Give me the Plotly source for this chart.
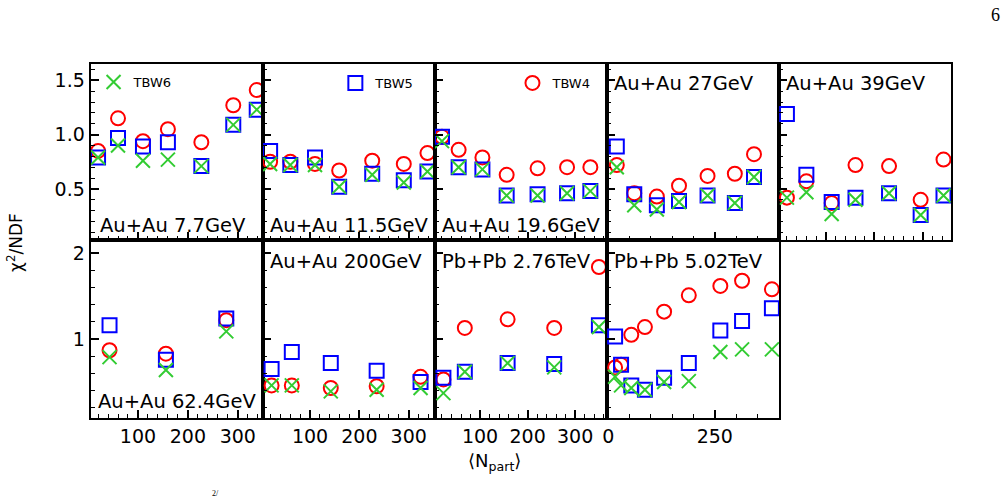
import plotly.graph_objects as go

# ---------------- data ----------------
labels = ["Au+Au 7.7GeV", "Au+Au 11.5GeV", "Au+Au 19.6GeV", "Au+Au 27GeV", "Au+Au 39GeV",
          "Au+Au 62.4GeV", "Au+Au 200GeV", "Pb+Pb 2.76TeV", "Pb+Pb 5.02TeV"]

npart_7 = [20, 60, 110, 160, 227, 291, 338]
tbw4_7 = [0.85, 1.15, 0.94, 1.05, 0.93, 1.27, 1.41]
tbw5_7 = [0.79, 0.97, 0.89, 0.93, 0.71, 1.09, 1.23]
tbw6_7 = [0.79, 0.90, 0.76, 0.77, 0.71, 1.09, 1.23]

npart_11 = [19, 60, 110, 159, 226, 290, 338]
tbw4_11 = [0.75, 0.75, 0.73, 0.67, 0.76, 0.73, 0.83]
tbw5_11 = [0.85, 0.72, 0.79, 0.52, 0.64, 0.58, 0.66]
tbw6_11 = [0.73, 0.72, 0.72, 0.52, 0.63, 0.56, 0.66]

npart_19 = [20, 55, 105, 156, 221, 283, 332]
tbw4_19 = [0.98, 0.86, 0.79, 0.63, 0.69, 0.70, 0.70]
tbw5_19 = [0.98, 0.70, 0.68, 0.44, 0.45, 0.46, 0.48]
tbw6_19 = [0.94, 0.70, 0.68, 0.44, 0.44, 0.46, 0.48]

npart_27 = [20, 61, 114, 166, 233, 297, 342]
tbw4_27 = [0.72, 0.46, 0.43, 0.53, 0.62, 0.64, 0.82]
tbw5_27 = [0.89, 0.45, 0.35, 0.39, 0.44, 0.37, 0.61]
tbw6_27 = [0.70, 0.35, 0.31, 0.38, 0.44, 0.37, 0.61]

npart_39 = [20, 60, 112, 161, 230, 295, 342]
tbw4_39 = [0.42, 0.57, 0.37, 0.72, 0.71, 0.40, 0.77]
tbw5_39 = [1.19, 0.63, 0.38, 0.42, 0.46, 0.26, 0.44]
tbw6_39 = [0.42, 0.47, 0.27, 0.40, 0.46, 0.26, 0.44]

npart_62 = [43, 156, 277]
tbw4_62 = [0.87, 0.83, 1.22]
tbw5_62 = [1.16, 0.76, 1.24]
tbw6_62 = [0.79, 0.64, 1.09]

npart_200 = [22, 63, 142, 235, 324]
tbw4_200 = [0.46, 0.46, 0.43, 0.45, 0.56]
tbw5_200 = [0.65, 0.85, 0.72, 0.63, 0.50]
tbw6_200 = [0.46, 0.46, 0.39, 0.41, 0.43]

npart_276 = [23, 68, 158, 256, 350]
tbw4_276 = [0.53, 1.13, 1.23, 1.13, 1.84]
tbw5_276 = [0.55, 0.62, 0.72, 0.71, 1.16]
tbw6_276 = [0.37, 0.62, 0.72, 0.67, 1.14]

npart_502 = [16, 30, 54, 86, 131, 189, 263, 314, 384]
tbw4_502 = [0.67, 0.70, 1.05, 1.14, 1.32, 1.51, 1.62, 1.68, 1.58]
tbw5_502 = [1.03, 0.70, 0.46, 0.41, 0.55, 0.72, 1.10, 1.21, 1.36]
tbw6_502 = [0.56, 0.46, 0.43, 0.41, 0.50, 0.51, 0.85, 0.88, 0.88]

panels = [
    (npart_7, tbw4_7, tbw5_7, tbw6_7),
    (npart_11, tbw4_11, tbw5_11, tbw6_11),
    (npart_19, tbw4_19, tbw5_19, tbw6_19),
    (npart_27, tbw4_27, tbw5_27, tbw6_27),
    (npart_39, tbw4_39, tbw5_39, tbw6_39),
    (npart_62, tbw4_62, tbw5_62, tbw6_62),
    (npart_200, tbw4_200, tbw5_200, tbw6_200),
    (npart_276, tbw4_276, tbw5_276, tbw6_276),
    (npart_502, tbw4_502, tbw5_502, tbw6_502),
]

x_tick_labels_col = [[100, 200, 300], [100, 200, 300], [100, 200, 300], [0, 250], [100, 200, 300]]
y_ticks_row1 = [0.5, 1.0, 1.5]
y_ticks_row2 = [1, 2]

# ---------------- layout geometry (pixels) ----------------
W, H = 1008, 499
col_left = [86, 259, 432, 605, 778]
col_w = 173
row_top = [64, 240]
row_bot = [240, 418]
x_ranges = [[5, 350], [4, 353], [5, 367], [-3, 401], [4, 358]]
y_ranges = [[0.03, 1.65], [0.08, 2.155]]

RED, BLUE, GREEN = "#ff0000", "#0000ff", "#33cc33"
FONT = "DejaVu Sans"

fig = go.Figure()
layout = {}

for idx in range(10):
    r, c = divmod(idx, 5)
    n = idx + 1
    xa = "xaxis" if n == 1 else f"xaxis{n}"
    ya = "yaxis" if n == 1 else f"yaxis{n}"
    xref = "x" if n == 1 else f"x{n}"
    yref = "y" if n == 1 else f"y{n}"
    xt = x_tick_labels_col[c]
    layout[xa] = dict(
        domain=[col_left[c] / W, (col_left[c] + col_w) / W],
        range=x_ranges[c], anchor=yref,
        showline=True, mirror=True, linecolor="black", linewidth=2,
        showgrid=False, zeroline=False,
        ticks="inside", ticklen=8, tickwidth=1.5, tickcolor="black",
        tickvals=xt, ticktext=[str(v) for v in xt],
        showticklabels=(r == 1),
        tickfont=dict(family=FONT, size=19, color="black"),
        minor=dict(ticks="inside", ticklen=4, tickwidth=1.2, tickcolor="black",
                   dtick=(50 if c == 3 else 20), tick0=0, showgrid=False),
    )
    yt = y_ticks_row1 if r == 0 else y_ticks_row2
    layout[ya] = dict(
        domain=[1 - row_bot[r] / H, 1 - row_top[r] / H],
        range=y_ranges[r], anchor=xref,
        showline=True, mirror=True, linecolor="black", linewidth=2,
        showgrid=False, zeroline=False,
        ticks="inside", ticklen=8, tickwidth=1.5, tickcolor="black",
        tickvals=yt, ticktext=(["0.5", "1.0", "1.5"] if r == 0 else ["1", "2"]),
        showticklabels=(c == 0),
        tickfont=dict(family=FONT, size=19, color="black"),
        minor=dict(ticks="inside", ticklen=4, tickwidth=1.2, tickcolor="black",
                   dtick=(0.1 if r == 0 else 0.2), tick0=0, showgrid=False),
    )
    if idx < 9:
        xs, s4, s5, s6 = panels[idx]
        first = idx == 0
        fig.add_trace(go.Scatter(
            x=xs, y=s4, xaxis=xref, yaxis=yref, mode="markers", name="TBW4",
            showlegend=first, legend="legend3",
            marker=dict(symbol="circle-open", size=14, color=RED, line=dict(width=2, color=RED))))
        fig.add_trace(go.Scatter(
            x=xs, y=s5, xaxis=xref, yaxis=yref, mode="markers", name="TBW5",
            showlegend=first, legend="legend2",
            marker=dict(symbol="square-open", size=14, color=BLUE, line=dict(width=2, color=BLUE))))
        fig.add_trace(go.Scatter(
            x=xs, y=s6, xaxis=xref, yaxis=yref, mode="markers", name="TBW6",
            showlegend=first, legend="legend",
            marker=dict(symbol="x-thin-open", size=14, color=GREEN, line=dict(width=2, color=GREEN))))

# panel labels: (left px, center y px)
label_pos = [(93, 225), (264, 225), (437, 225), (610, 84), (783, 84),
             (91, 401), (264, 261), (437, 261), (610, 261)]
annotations = []
for i, (lx, ly) in enumerate(label_pos):
    annotations.append(dict(text=labels[i], x=lx / W, y=1 - ly / H, xref="paper", yref="paper",
                            xanchor="left", yanchor="middle", showarrow=False,
                            font=dict(family=FONT, size=19.5, color="black")))
annotations.append(dict(text="χ<sup>2</sup>/NDF", x=10 / W, y=1 - 242 / H, xref="paper", yref="paper",
                        textangle=-90, xanchor="center", yanchor="middle", showarrow=False,
                        font=dict(family=FONT, size=17, color="black")))
annotations.append(dict(text="⟨N<sub>part</sub>⟩", x=492 / W, y=1 - 462 / H, xref="paper", yref="paper",
                        xanchor="center", yanchor="middle", showarrow=False,
                        font=dict(family=FONT, size=18, color="black")))
annotations.append(dict(text="6", x=995 / W, y=1 - 15 / H, xref="paper", yref="paper",
                        xanchor="center", yanchor="middle", showarrow=False,
                        font=dict(family="Liberation Serif", size=18, color="black")))
annotations.append(dict(text="2/", x=212 / W, y=1 - 493 / H, xref="paper", yref="paper",
                        xanchor="center", yanchor="middle", showarrow=False,
                        font=dict(family="Liberation Serif", size=8, color="black")))

leg_common = dict(xanchor="left", yanchor="middle", bgcolor="rgba(0,0,0,0)",
                  font=dict(family=FONT, size=13, color="black"), itemwidth=30,
                  tracegroupgap=0)
layout["legend"] = dict(x=89 / W, y=1 - 82 / H, **leg_common)
layout["legend2"] = dict(x=332 / W, y=1 - 83 / H, **leg_common)
layout["legend3"] = dict(x=510 / W, y=1 - 83 / H, **leg_common)

fig.update_layout(
    width=W, height=H, margin=dict(l=0, r=0, t=0, b=0),
    paper_bgcolor="white", plot_bgcolor="white",
    annotations=annotations, showlegend=True, **layout)

fig.write_html("out.html")
